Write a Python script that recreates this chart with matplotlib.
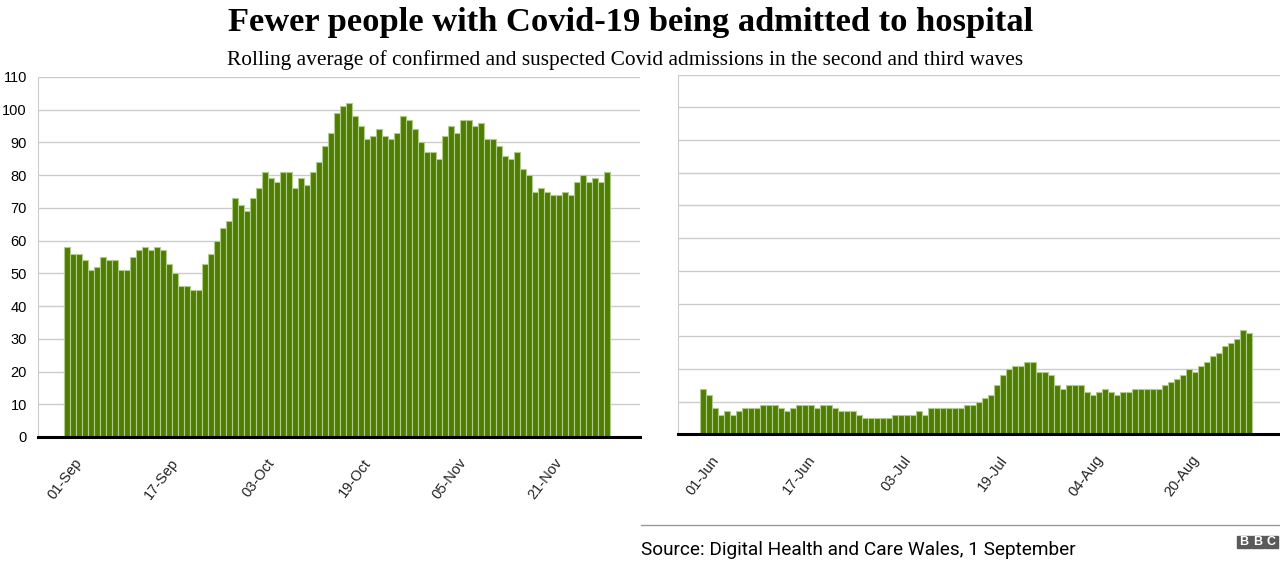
import matplotlib.pyplot as plt
import matplotlib.transforms as mtransforms
from matplotlib.patches import Rectangle

# second wave, daily bars from 01-Sep
wave2 = [58, 56, 56, 54, 51, 52, 55, 54, 54, 51, 51, 55, 57, 58, 57, 58,
         57, 53, 50, 46, 46, 45, 45, 53, 56, 60, 64, 66, 73, 71, 69, 73,
         76, 81, 79, 78, 81, 81, 76, 79, 77, 81, 84, 89, 93, 99, 101, 102,
         98, 95, 91, 92, 94, 92, 91, 93, 98, 97, 94, 90, 87, 87, 85, 92,
         95, 93, 97, 97, 95, 96, 91, 91, 89, 86, 85, 87, 82, 80, 75, 76,
         75, 74, 74, 75, 74, 78, 80, 78, 79, 78, 81]
wave2_ticks = ["01-Sep", "17-Sep", "03-Oct", "19-Oct", "05-Nov", "21-Nov"]

# third wave, daily bars from 01-Jun
wave3 = [14, 12, 8, 6, 7, 6, 7, 8, 8, 8, 9, 9, 9, 8, 7, 8,
         9, 9, 9, 8, 9, 9, 8, 7, 7, 7, 6, 5, 5, 5, 5, 5,
         6, 6, 6, 6, 7, 6, 8, 8, 8, 8, 8, 8, 9, 9, 10, 11,
         12, 15, 18, 20, 21, 21, 22, 22, 19, 19, 18, 15, 14, 15, 15, 15,
         13, 12, 13, 14, 13, 12, 13, 13, 14, 14, 14, 14, 14, 15, 16, 17,
         18, 20, 19, 21, 22, 24, 25, 27, 28, 29, 32, 31]
wave3_ticks = ["01-Jun", "17-Jun", "03-Jul", "19-Jul", "04-Aug", "20-Aug"]

tick_step = 16
bar_color = "#4f7d00"
edge_color = "#b0cc8a"
grid_color = "#cccccc"

fig = plt.figure(figsize=(12.8, 5.74), dpi=100)

def draw_panel(ax, values, ticks, show_y):
	x = list(range(len(values)))
	ax.bar(x, values, width=1.0, color=bar_color, edgecolor=edge_color,
		linewidth=0.8, zorder=3)
	ax.set_ylim(0, 110)
	ax.set_yticks(range(0, 111, 10))
	ax.grid(axis="y", color=grid_color, linewidth=1, zorder=0)
	ax.set_xticks([])
	# slanted date labels, hung under the axis
	offset = mtransforms.ScaledTranslation(13 / 100, -23 / 100, fig.dpi_scale_trans)
	for i, t in enumerate(ticks):
		ax.text(i * tick_step, 0, t, transform=ax.get_xaxis_transform() + offset,
			rotation=53, ha="right", va="center", rotation_mode="anchor",
			fontsize=10.5, family="Liberation Sans", color="#222222")
	ax.tick_params(axis="y", length=0, pad=8)
	if show_y:
		for lab in ax.get_yticklabels():
			lab.set_family("Liberation Sans")
			lab.set_fontsize(10.5)
	else:
		ax.set_yticklabels([])
	for s in ["top", "right"]:
		ax.spines[s].set_visible(False)
	ax.spines["left"].set_color(grid_color)
	ax.spines["bottom"].set_color("black")
	ax.spines["bottom"].set_linewidth(2.2)
	ax.spines["bottom"].set_zorder(4)

ax1 = fig.add_axes([38 / 1280, 1 - 437 / 574, 602 / 1280, 360 / 574])
draw_panel(ax1, wave2, wave2_ticks, True)
ax1.set_xlim((38 - 66.7) / 6, (640 - 66.7) / 6)

ax2 = fig.add_axes([678 / 1280, 1 - 434.3 / 574, 602 / 1280, 359.7 / 574])
draw_panel(ax2, wave3, wave3_ticks, False)
ax2.set_xlim((678 - 703.3) / 6, (1280 - 703.3) / 6)

fig.text(631 / 1280, 1 - 22 / 574, "Fewer people with Covid-19 being admitted to hospital",
	ha="center", va="center", fontsize=24.8, fontweight="bold",
	family="Liberation Serif")
fig.text(625 / 1280, 1 - 60 / 574,
	"Rolling average of confirmed and suspected Covid admissions in the second and third waves",
	ha="center", va="center", fontsize=15.4, family="Liberation Serif")

# footer
fig.add_artist(plt.Line2D([641 / 1280, 1], [1 - 525 / 574, 1 - 525 / 574],
	color="#999999", linewidth=1, transform=fig.transFigure))
fig.text(641 / 1280, 1 - 550 / 574, "Source: Digital Health and Care Wales, 1 September",
	ha="left", va="center", fontsize=13.7, family="Roboto")

# BBC blocks
for i, letter in enumerate("BBC"):
	x0 = 1237 + i * 14
	fig.add_artist(Rectangle((x0 / 1280, 1 - 548 / 574), 12.5 / 1280, 12.5 / 574,
		transform=fig.transFigure, color="#5a5a5a"))
	fig.text((x0 + 6.25) / 1280, 1 - 541.8 / 574, letter, ha="center", va="center",
		fontsize=9, fontweight="bold", color="white", family="Liberation Sans")

fig.savefig("out.png", dpi=100)
